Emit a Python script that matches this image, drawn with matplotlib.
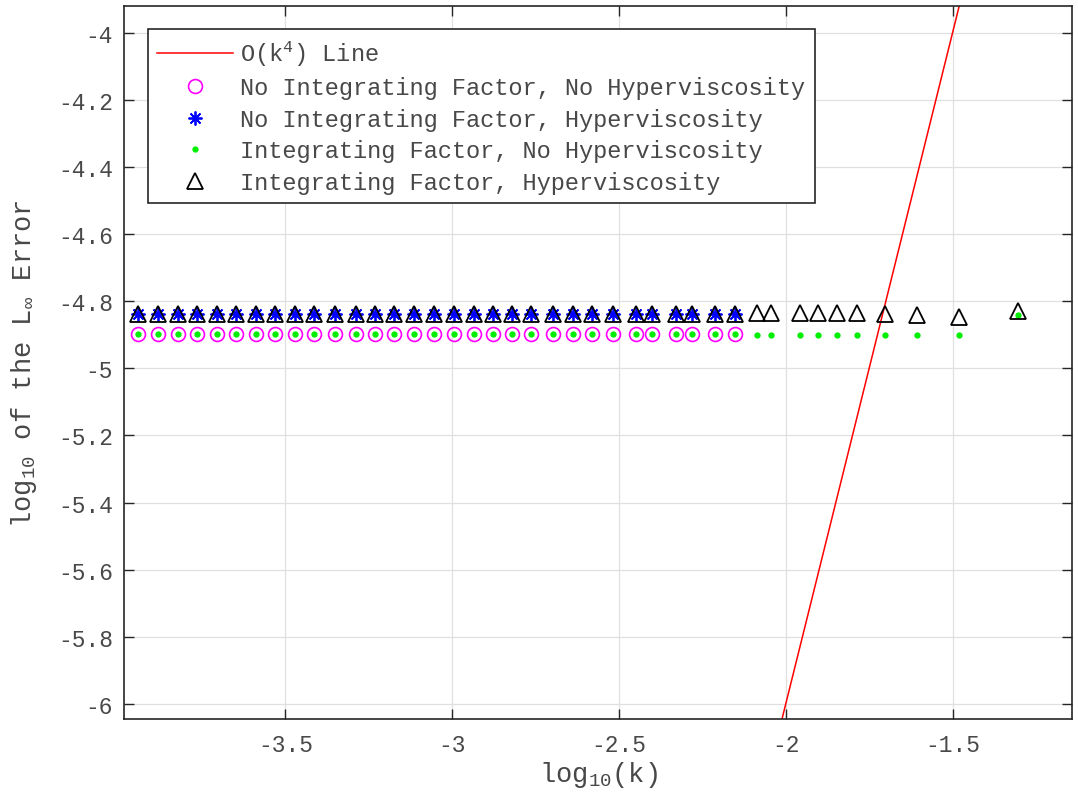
import numpy as np
import matplotlib
matplotlib.use("Agg")
import matplotlib.pyplot as plt
from matplotlib.ticker import FormatStrFormatter

plt.rcParams['font.family'] = ['Liberation Mono', 'DejaVu Sans Mono']
plt.rcParams['mathtext.fontset'] = 'custom'
plt.rcParams['mathtext.rm'] = 'Liberation Mono'
plt.rcParams['mathtext.it'] = 'Liberation Mono'
plt.rcParams['axes.unicode_minus'] = False

# log10(k) for the runs
logk_small = [-3.941, -3.881, -3.823, -3.764, -3.706, -3.648, -3.589, -3.531,
              -3.472, -3.414, -3.351, -3.288, -3.231, -3.174, -3.115, -3.055,
              -2.995, -2.935, -2.877, -2.822, -2.764, -2.697, -2.639, -2.580,
              -2.519, -2.450, -2.402, -2.329, -2.282, -2.212, -2.152]
logk_large = [-2.086, -2.044, -1.957, -1.904, -1.847, -1.785, -1.702,
              -1.607, -1.480, -1.303]

# log10 of the max error for each scheme
err_noif_nohv = [-4.898] * 31
err_noif_hv = [-4.837] * 31
err_if_nohv = [-4.898] * 31 + [-4.900, -4.900, -4.900, -4.900, -4.900,
                               -4.900, -4.900, -4.900, -4.900, -4.841]
err_if_hv = [-4.837] * 31 + [-4.835, -4.835, -4.835, -4.835, -4.835,
                             -4.836, -4.837, -4.840, -4.846, -4.828]

# fourth-order reference line
ref_x = [-4.0, -1.0]
ref_y = [-14.0, -2.0]

logk_all = logk_small + logk_large

fig = plt.figure(figsize=(10.78, 8.03), dpi=100)
ax = fig.add_axes([0.1153, 0.1034, 0.8791, 0.8875])

ax.plot(ref_x, ref_y, color='red', lw=1.1, label=r'O(k$^{4}$) Line')
ax.plot(logk_small, err_noif_nohv, 'o', mfc='none', mec='magenta', ms=10,
        mew=1.2, label='No Integrating Factor, No Hyperviscosity')
ax.plot(logk_small, err_noif_hv, marker=(8, 2, 0), ls='none', color='blue',
        ms=10, mew=1.3, label='No Integrating Factor, Hyperviscosity')
ax.plot(logk_all, err_if_nohv, '.', color='#00ee00', ms=7,
        label='Integrating Factor, No Hyperviscosity')
ax.plot(logk_all, err_if_hv, '^', mfc='none', mec='black', ms=11, mew=1.3,
        label='Integrating Factor, Hyperviscosity')

ax.set_xlim(-3.983, -1.142)
ax.set_ylim(-6.045, -3.921)
ax.set_xticks([-3.5, -3, -2.5, -2, -1.5])
ax.set_yticks(np.arange(-6, -3.99, 0.2))
ax.xaxis.set_major_formatter(FormatStrFormatter('%g'))
ax.yaxis.set_major_formatter(FormatStrFormatter('%g'))

txt = '#484848'
ax.tick_params(direction='in', length=7, width=1, top=True, right=True,
               labelsize=16.5, colors='#262626', labelcolor=txt, pad=10)
ax.tick_params(axis='y', pad=8)
for s in ax.spines.values():
    s.set_color('#262626')
    s.set_linewidth(1.2)
ax.grid(True, color='#e0e0e0', lw=0.9)
ax.set_axisbelow(True)

ax.set_xlabel(r'log$_{10}$(k)', fontsize=19.5, color=txt, labelpad=2)
ax.set_ylabel(r'log$_{10}$ of the L$_{\infty}$ Error', fontsize=19.5,
              color=txt, labelpad=14)

leg = ax.legend(loc='upper left', bbox_to_anchor=(0.025, 0.968),
                borderaxespad=0, fontsize=17, frameon=True, fancybox=False,
                edgecolor='#262626', framealpha=1, handlelength=3.2,
                handletextpad=0.3, labelspacing=0.36, borderpad=0.4)
leg.get_frame().set_linewidth(1.2)
for t in leg.get_texts():
    t.set_color(txt)

fig.savefig('out.png', dpi=100)
